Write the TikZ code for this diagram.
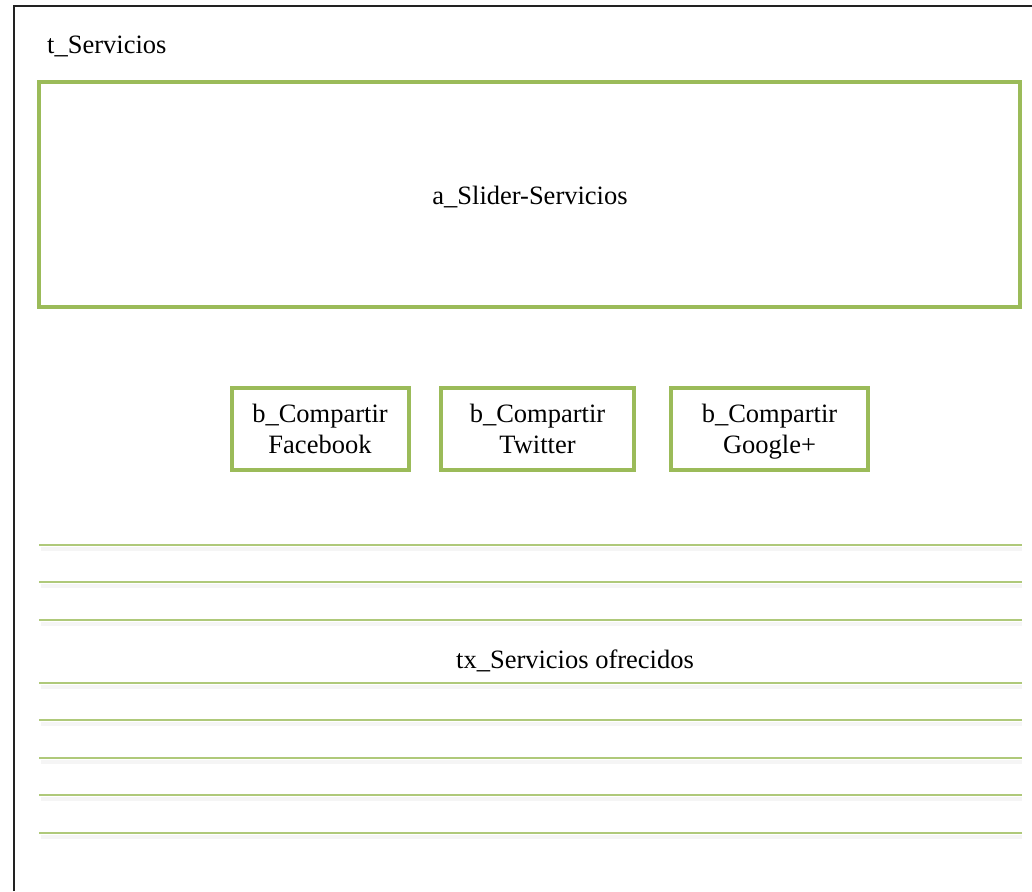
\documentclass[tikz,border=0pt]{standalone}
\usepackage{fontspec}
\setmainfont{Liberation Serif}
\definecolor{olive}{HTML}{9BBB59}
\definecolor{frame}{HTML}{222222}
\begin{document}
\begin{tikzpicture}[x=1pt,y=-1pt,
  greenbox/.style={draw=olive,line width=4pt,inner sep=0pt},
  ruleline/.style={draw=olive!80,line width=1.2pt},
  ruleshadow/.style={draw=black!4,line width=4pt},
  lbl/.style={font=\fontsize{26.5}{31}\selectfont,inner sep=0pt,align=center}]
\useasboundingbox (0,0) rectangle (1032,891);
\fill[white] (0,0) rectangle (1032,891);
\draw[frame,line width=2pt] (14,891) -- (14,6) -- (1032,6);
\node[lbl,anchor=west] (title) at (47,46) {t\_Servicios};
\node[greenbox,minimum width=981pt,minimum height=225pt] (slider) at (529.5,194.5) {};
\node[lbl] (slidertext) at (530,197) {a\_Slider-Servicios};
\node[greenbox,minimum width=177pt,minimum height=82pt] (fb) at (320,428.5) {};
\node[greenbox,minimum width=193pt,minimum height=82pt] (tw) at (537.5,428.5) {};
\node[greenbox,minimum width=197pt,minimum height=82pt] (gp) at (769.5,428.5) {};
\node[lbl] (fbt) at ([yshift=-3.5pt]fb.center) {\strut b\_Compartir\\\strut Facebook};
\node[lbl] (twt) at ([yshift=-3.5pt]tw.center) {\strut b\_Compartir\\\strut Twitter};
\node[lbl] (gpt) at ([yshift=-3.5pt]gp.center) {\strut b\_Compartir\\\strut Google+};
\foreach \yy in {545,582,620,683,720,758,795,833}{
  \draw[ruleshadow] (41,\yy+4) -- (1022,\yy+4);
  \draw[ruleline] (39,\yy) -- (1022,\yy);
}
\node[lbl] (tx) at (575,661) {tx\_Servicios ofrecidos};
\end{tikzpicture}
\end{document}
